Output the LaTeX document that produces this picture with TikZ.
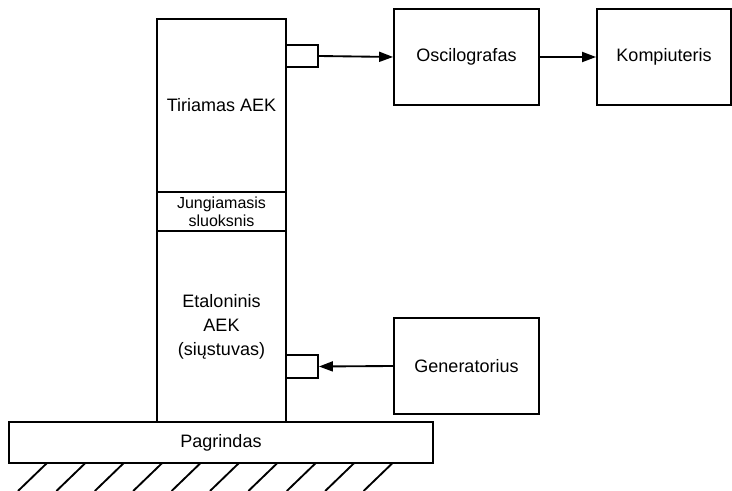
\documentclass[tikz,border=0pt]{standalone}
\usepackage{fontspec}
\setmainfont{Liberation Sans}
\usetikzlibrary{arrows.meta,fit}
\begin{document}
\begin{tikzpicture}[x=0.75pt,y=-0.75pt,
  box/.style={draw,line width=1.4pt,inner sep=0pt},
  txt/.style={align=center,inner sep=0pt,font=\fontsize{13.5}{18}\selectfont},
  smalltxt/.style={txt,font=\fontsize{12}{13.5}\selectfont},
  link/.style={line width=1.4pt,-{Triangle[length=10.5pt,width=7.5pt]}},
  hatch/.style={line width=1.4pt}]
\useasboundingbox (0,0) rectangle (732,491);

% sample stack
\node[box,fit={(157,19) (286,192)}] (tir) {};
\node[box,fit={(157,192) (286,231)}] (jung) {};
\node[box,fit={(157,231) (286,422)}] (etal) {};
\node[txt] (tirT) at (tir.center) {Tiriamas AEK};
\node[smalltxt] (jungT) at (jung.center) {Jungiamasis\\sluoksnis};
\node[txt] (etalT) at (etal.center) {Etaloninis\\AEK\\(siųstuvas)};

% sensor terminals
\node[box,fit={(286,45) (318,67)}] (p1) {};
\node[box,fit={(286,355) (318,378)}] (p2) {};

% instruments
\node[box,fit={(394,9) (539,105)}] (osc) {};
\node[box,fit={(597,9) (731,105)}] (pc) {};
\node[box,fit={(394,318) (539,414)}] (gen) {};
\node[txt] (oscT) at (osc.center) {Oscilografas};
\node[txt] (pcT) at (pc.center) {Kompiuteris};
\node[txt] (genT) at (gen.center) {Generatorius};

% base plate
\node[box,fit={(9,422) (433,463)}] (base) {};
\node[txt] (baseT) at (base.center) {Pagrindas};

% ground hatching
\foreach \xt in {47,85.4,123.8,162.2,200.6,239,277.4,315.8,354.2,392.6}
  \draw[hatch] (\xt,463) -- (\xt-29,491);

% signal paths
\draw[link] (p1.east) -- (osc.west);
\draw[link] (osc.east) -- (pc.west);
\draw[link] (gen.west) -- (p2.east);
\end{tikzpicture}
\end{document}
